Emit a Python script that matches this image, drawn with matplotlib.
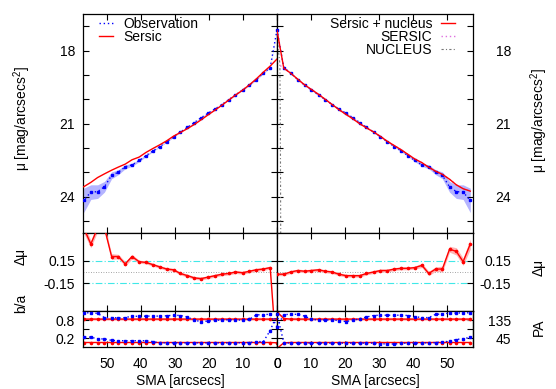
import matplotlib
matplotlib.use('Agg')
import matplotlib.pyplot as plt
from matplotlib.lines import Line2D

plt.rcParams['font.family'] = ['Liberation Sans', 'DejaVu Sans']
plt.rcParams['mathtext.fontset'] = 'custom'
plt.rcParams['mathtext.rm'] = 'Liberation Sans'
plt.rcParams['mathtext.it'] = 'Liberation Sans:italic'
plt.rcParams['font.size'] = 10

# ---------------- data ----------------
sma = [0.0, 2.0, 4.0, 6.1, 8.1, 10.1, 12.2, 14.2, 16.2, 18.2, 20.3, 22.3, 24.3, 26.3,
       28.4, 30.4, 32.4, 34.5, 36.5, 38.5, 40.5, 42.6, 44.6, 46.6, 48.6, 50.7, 52.7,
       54.7, 56.8]
obs_mu = [17.15, 18.70, 18.93, 19.20, 19.42, 19.62, 19.83, 20.02, 20.22, 20.40, 20.58,
          20.76, 20.96, 21.16, 21.35, 21.55, 21.75, 21.95, 22.13, 22.32, 22.52, 22.70,
          22.78, 23.00, 23.13, 23.60, 23.80, 23.82, 24.16]
obs_err = [0.03, 0.02, 0.02, 0.02, 0.02, 0.02, 0.02, 0.02, 0.02, 0.02, 0.02, 0.02, 0.02,
           0.02, 0.02, 0.02, 0.02, 0.02, 0.03, 0.04, 0.05, 0.06, 0.08, 0.10, 0.14, 0.22,
           0.28, 0.30, 0.50]
sersic_left = [18.35, 18.64, 18.89, 19.17, 19.41, 19.63, 19.83, 20.04, 20.25, 20.45, 20.65,
               20.85, 21.04, 21.21, 21.37, 21.52, 21.71, 21.88, 22.03, 22.19, 22.38, 22.49,
               22.67, 22.79, 22.92, 23.07, 23.22, 23.42, 23.60]
total_right = [17.18, 18.73, 18.93, 19.18, 19.41, 19.60, 19.80, 20.01, 20.22, 20.43, 20.63,
               20.81, 21.01, 21.18, 21.35, 21.53, 21.73, 21.91, 22.08, 22.27, 22.46, 22.61,
               22.80, 22.96, 23.09, 23.29, 23.52, 23.68, 23.78]
sersic_comp_right = [18.52, 18.73, 18.93, 19.18, 19.41, 19.60, 19.80, 20.01, 20.22, 20.43,
                     20.63, 20.81, 21.01, 21.18, 21.35, 21.53, 21.73, 21.91, 22.08, 22.27,
                     22.46, 22.61, 22.80, 22.96, 23.09, 23.29, 23.52, 23.68, 23.78]
nucleus_sma = [0.0, 0.85, 1.0, 1.1]
nucleus_mu = [17.45, 18.55, 21.5, 26.0]

resid_left = [-1.2, 0.06, 0.04, 0.03, 0.01, -0.01, 0.0, -0.02, -0.03, -0.05, -0.07, -0.09,
              -0.08, -0.05, -0.02, 0.03, 0.04, 0.07, 0.10, 0.13, 0.14, 0.21, 0.11, 0.21,
              0.21, 0.60, 0.60, 0.38, 0.60]
resid_right = [-0.03, -0.03, 0.0, 0.02, 0.01, 0.02, 0.03, 0.01, 0.0, -0.03, -0.05, -0.05,
               -0.05, -0.02, 0.0, 0.02, 0.02, 0.04, 0.05, 0.05, 0.06, 0.09, -0.02, 0.04,
               0.04, 0.31, 0.28, 0.14, 0.38]
resid_err = [0.02, 0.02, 0.02, 0.02, 0.02, 0.02, 0.02, 0.02, 0.02, 0.02, 0.02, 0.02, 0.02,
             0.02, 0.02, 0.02, 0.02, 0.02, 0.02, 0.02, 0.02, 0.03, 0.03, 0.03, 0.04, 0.04,
             0.05, 0.05, 0.07]

ba_obs_left = [0.57, 0.99, 0.98, 0.97, 0.82, 0.80, 0.80, 0.81, 0.80, 0.79, 0.76, 0.75, 0.79,
               0.90, 0.95, 0.96, 0.94, 0.93, 0.93, 0.93, 0.92, 0.93, 0.88, 0.87, 0.88, 0.88,
               1.02, 1.04, 1.04]
ba_mod_left = [0.84, 0.83, 0.83, 0.83, 0.83, 0.83, 0.83, 0.83, 0.83, 0.83, 0.83, 0.83, 0.83,
               0.83, 0.83, 0.83, 0.83, 0.83, 0.83, 0.83, 0.83, 0.83, 0.83, 0.83, 0.83, 0.83,
               0.83, 0.83, 0.83]
pa_obs_left = [0.99, 0.45, 0.08, 0.08, 0.05, 0.04, 0.04, 0.04, 0.04, 0.04, 0.04, 0.04, 0.04,
               0.04, 0.04, 0.04, 0.04, 0.04, 0.08, 0.11, 0.11, 0.11, 0.11, 0.11, 0.12, 0.17,
               0.17, 0.23, 0.23]
pa_mod_left = [0.04, 0.05, 0.05, 0.05, 0.05, 0.05, 0.05, 0.05, 0.05, 0.05, 0.05, 0.05, 0.05,
               0.05, 0.05, 0.05, 0.05, 0.05, 0.05, 0.05, 0.05, 0.05, 0.05, 0.05, 0.05, 0.05,
               0.05, 0.05, 0.05]
ba_obs_right = [0.57, 0.98, 0.99, 0.99, 0.93, 0.82, 0.80, 0.80, 0.80, 0.78, 0.75, 0.79, 0.84,
                0.90, 0.95, 0.96, 0.96, 0.96, 0.96, 0.95, 0.91, 0.88, 0.88, 0.99, 1.00, 1.03,
                1.03, 1.04, 1.04]
ba_mod_right = [1.07, 0.85, 0.83, 0.83, 0.83, 0.83, 0.83, 0.83, 0.83, 0.83, 0.83, 0.83, 0.83,
                0.83, 0.83, 0.83, 0.83, 0.83, 0.83, 0.83, 0.83, 0.83, 0.83, 0.83, 0.83, 0.83,
                0.83, 0.83, 0.83]
pa_obs_right = [1.00, 0.04, 0.03, 0.03, 0.03, 0.03, 0.03, 0.03, 0.03, 0.03, 0.03, 0.03, 0.03,
                0.03, 0.03, 0.01, 0.00, 0.00, 0.02, 0.03, 0.03, 0.04, 0.04, 0.05, 0.07, 0.09,
                0.15, 0.18, 0.22]
pa_mod_right = [-0.15, 0.04, 0.05, 0.05, 0.05, 0.05, 0.05, 0.05, 0.05, 0.05, 0.05, 0.05, 0.05,
                0.05, 0.05, 0.05, 0.05, 0.05, 0.05, 0.05, 0.05, 0.05, 0.05, 0.05, 0.05, 0.05,
                0.05, 0.05, 0.05]
ba_band = 0.035

mu_ticks = [18, 21, 24]
dmu_ticks = [-0.15, 0.15]
ba_ticks = [0.2, 0.5, 0.8]
ba_ticklabels = ['0.2', '', '0.8']
pa_ticks = [45, 90, 135]
pa_ticklabels = ['45', '', '135']
x_ticks = [0, 10, 20, 30, 40, 50]

# ---------------- styles ----------------
BLUE = '#0000ff'
RED = '#ff0000'
DOT = (0, (1, 2))
NUC = '#777777'
MS_B, MS_R = 1.7, 1.6
W, H = 556, 389
def fx(p): return p / W
def fy(p): return 1 - p / H

xL, xC, xR = 83, 277, 473
yT, y1, y2, yB = 14, 233, 311, 347

fig = plt.figure(figsize=(W / 100, H / 100), dpi=100)
def mk(x0, x1, ya, yb):
    return fig.add_axes([fx(x0), fy(yb), fx(x1) - fx(x0), fy(ya) - fy(yb)])

ax_tl = mk(xL, xC, yT, y1); ax_tr = mk(xC, xR, yT, y1)
ax_ml = mk(xL, xC, y1, y2); ax_mr = mk(xC, xR, y1, y2)
ax_bl = mk(xL, xC, y2, yB); ax_br = mk(xC, xR, y2, yB)

for ax in [ax_tl, ax_tr, ax_ml, ax_mr, ax_bl, ax_br]:
    for s in ax.spines.values():
        s.set_linewidth(0.9)
    ax.tick_params(direction='in', length=4.5, width=0.8, top=True, bottom=True,
                   left=True, right=True, labelsize=10)
    ax.set_xticks(x_ticks)
for ax in [ax_tl, ax_ml, ax_bl]:
    ax.set_xlim(57, 0)
    ax.tick_params(axis='y', labelleft=True, labelright=False, pad=5.8)
for ax in [ax_tr, ax_mr, ax_br]:
    ax.set_xlim(0, 57.6)
    ax.tick_params(axis='y', labelleft=False, labelright=True, pad=27.4)
for ax in [ax_tl, ax_tr, ax_ml, ax_mr]:
    ax.tick_params(axis='x', labelbottom=False)
for ax in [ax_bl, ax_br]:
    ax.tick_params(axis='x', pad=7.5)

# ---- top panels ----
lo = [m - e for m, e in zip(obs_mu, obs_err)]
hi = [m + e for m, e in zip(obs_mu, obs_err)]
for ax in [ax_tl, ax_tr]:
    ax.fill_between(sma, lo, hi, color='#b4b4ff', lw=0, zorder=1)
    ax.plot(sma, obs_mu, color=BLUE, ls=DOT, lw=1, marker='s', ms=MS_B, zorder=3)
    ax.set_ylim(25.5, 16.5)
    ax.set_yticks(range(17, 26))
    ax.set_yticklabels(['' if v not in mu_ticks else str(v) for v in range(17, 26)])
ax_tl.plot(sma, sersic_left, color=RED, lw=1, zorder=4)
ax_tr.plot(nucleus_sma, nucleus_mu, color=NUC, lw=0.8, ls=(0, (2, 2, 1, 2)), zorder=2)
ax_tr.plot(sma, sersic_comp_right, color='#e070e0', lw=1, ls=DOT, zorder=2)
ax_tr.plot(sma, total_right, color=RED, lw=1, zorder=4)

ylab = r'μ [mag/arcsecs$^{2}$]'
ax_tl.set_ylabel(ylab)
ax_tl.yaxis.set_label_coords(fx(22), fy(118), transform=fig.transFigure)
ax_tr.yaxis.set_label_position('right')
ax_tr.set_ylabel(ylab)
ax_tr.yaxis.set_label_coords(fx(539), fy(120), transform=fig.transFigure)

h1 = [Line2D([], [], color=BLUE, ls=DOT, lw=1), Line2D([], [], color=RED, lw=1)]
ax_tl.legend(h1, ['Observation', 'Sersic'], loc='upper left', bbox_to_anchor=(0.085, 0.985),
             frameon=False, borderpad=0, borderaxespad=0, handlelength=1.0,
             handletextpad=0.7, labelspacing=-0.1, fontsize=10)
h2 = [Line2D([], [], color=RED, lw=1), Line2D([], [], color='#e070e0', ls=DOT, lw=1),
      Line2D([], [], color=NUC, ls=(0, (2, 2, 1, 2)), lw=0.8)]
ax_tr.legend(h2, ['Sersic + nucleus', 'SERSIC', 'NUCLEUS'], loc='upper right',
             bbox_to_anchor=(0.91, 0.985), frameon=False, borderpad=0, borderaxespad=0,
             handlelength=1.0, handletextpad=0.65, labelspacing=-0.1, markerfirst=False,
             fontsize=10)

# ---- middle panels ----
for ax, r in [(ax_ml, resid_left), (ax_mr, resid_right)]:
    ax.axhline(0.15, color='#40e8e8', lw=0.8, ls=(0, (6, 2, 1, 2)), zorder=1)
    ax.axhline(-0.15, color='#40e8e8', lw=0.8, ls=(0, (6, 2, 1, 2)), zorder=1)
    ax.axhline(0.0, color='#888888', lw=0.6, ls=(0, (1, 2)), zorder=1)
    ax.fill_between(sma, [a - e for a, e in zip(r, resid_err)],
                    [a + e for a, e in zip(r, resid_err)], color='#ffb4b4', lw=0, zorder=2)
    ax.plot(sma, r, color=RED, lw=1, marker='o', ms=MS_R, zorder=3)
    ax.set_ylim(-0.53, 0.53)
    ax.set_yticks(dmu_ticks)
    ax.set_yticklabels(['-0.15', '0.15'])
ax_ml.set_ylabel('Δμ')
ax_ml.yaxis.set_label_coords(fx(21), fy(256), transform=fig.transFigure)
ax_mr.yaxis.set_label_position('right')
ax_mr.set_ylabel('Δμ')
ax_mr.yaxis.set_label_coords(fx(539), fy(267), transform=fig.transFigure)

# ---- bottom panels ----
for ax, bo, bm, po, pm in [(ax_bl, ba_obs_left, ba_mod_left, pa_obs_left, pa_mod_left),
                           (ax_br, ba_obs_right, ba_mod_right, pa_obs_right, pa_mod_right)]:
    ax.fill_between(sma, [v - ba_band for v in bm], [v + ba_band for v in bm],
                    color='#ffb4b4', lw=0, zorder=1)
    ax.plot(sma, bo, color=BLUE, ls=DOT, lw=1, marker='s', ms=MS_B, zorder=3)
    ax.plot(sma, bm, color=RED, lw=1, marker='o', ms=MS_R, zorder=2)
    ax.plot(sma, po, color=BLUE, ls=DOT, lw=1, marker='s', ms=MS_B, zorder=3)
    ax.plot(sma, pm, color=RED, lw=1, marker='o', ms=MS_R, zorder=2)
    ax.set_ylim(-0.1, 1.1)
    ax.set_xlabel('SMA [arcsecs]')
ax_bl.set_yticks(ba_ticks)
ax_bl.set_yticklabels(ba_ticklabels)
ax_bl.set_ylabel('b/a')
ax_bl.yaxis.set_label_coords(fx(21), fy(303), transform=fig.transFigure)
ax_bl.xaxis.set_label_coords(fx(180), fy(381), transform=fig.transFigure)
ax_bl.xaxis.label.set_va('center')

sec = ax_br.secondary_yaxis('right', functions=(lambda v: v * 150 + 15,
                                                lambda p: (p - 15) / 150))
sec.set_yticks(pa_ticks)
sec.set_yticklabels(pa_ticklabels)
sec.tick_params(direction='in', length=4.5, width=0.8, pad=27.4, labelsize=10)
sec.spines['right'].set_linewidth(0.9)
sec.set_ylabel('PA')
sec.yaxis.set_label_coords(fx(539), fy(327), transform=fig.transFigure)
sec.yaxis.label.set_va('center')
ax_br.set_yticks(ba_ticks)
ax_br.tick_params(axis='y', left=True, labelleft=False, labelright=False, right=False)
ax_br.xaxis.set_label_coords(fx(375), fy(381), transform=fig.transFigure)
ax_br.xaxis.label.set_va('center')

for ax in [ax_tl, ax_ml, ax_bl, ax_tr, ax_mr]:
    ax.yaxis.label.set_va('center')
for ax in [ax_tr, ax_mr]:
    for t in ax.yaxis.get_major_ticks():
        t.label2.set_horizontalalignment('right')
for t in sec.yaxis.get_major_ticks():
    t.label2.set_horizontalalignment('right')

fig.savefig('out.png', dpi=100)
